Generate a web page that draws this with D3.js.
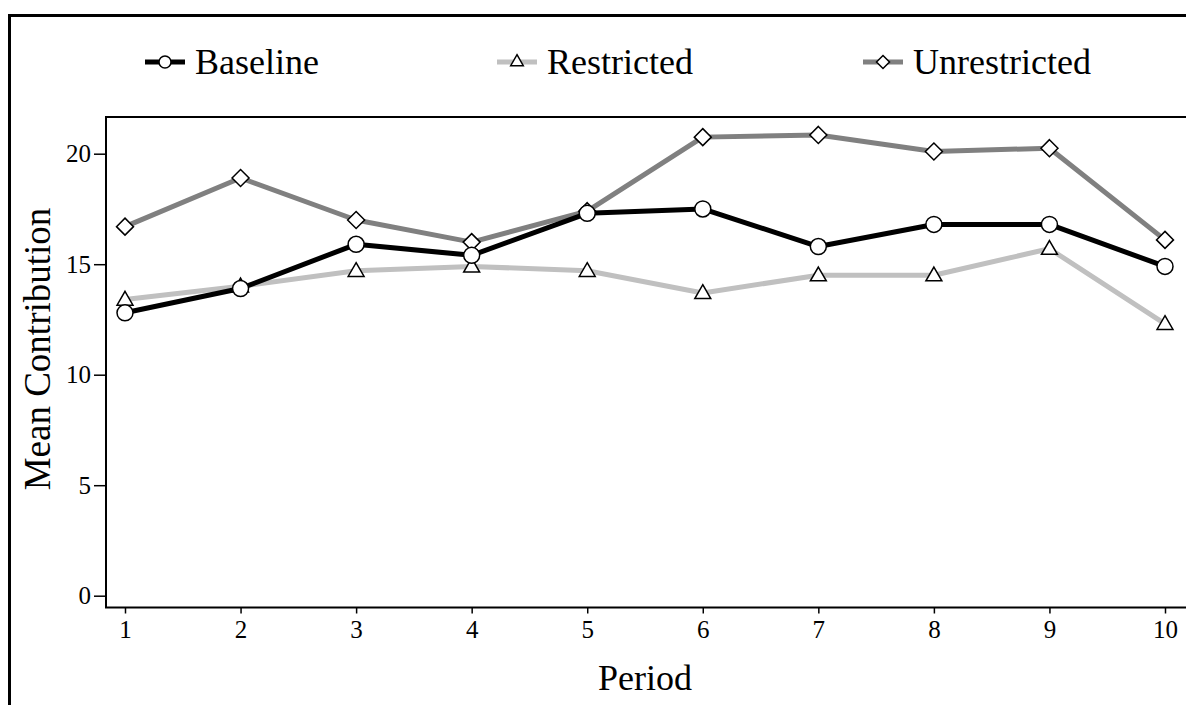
<!DOCTYPE html>
<html>
<head>
<meta charset="utf-8">
<script src="https://cdn.jsdelivr.net/npm/d3@7"></script>
<style>
  body { margin: 0; background: #fff; }
  text { font-family: "Liberation Serif", "Times New Roman", serif; fill: #000; }
</style>
</head>
<body>
<script>
// data
var periods = [1, 2, 3, 4, 5, 6, 7, 8, 9, 10];
var baseline = [12.8, 13.9, 15.9, 15.4, 17.3, 17.5, 15.8, 16.8, 16.8, 14.9];
var restricted = [13.4, 14.0, 14.7, 14.9, 14.7, 13.7, 14.5, 14.5, 15.7, 12.3];
var unrestricted = [16.7, 18.9, 17.0, 16.0, 17.4, 20.75, 20.85, 20.1, 20.25, 16.1];
var yTicks = [0, 5, 10, 15, 20];
var seriesNames = ["Baseline", "Restricted", "Unrestricted"];

var width = 1186, height = 705;
var svg = d3.select("body").append("svg")
  .attr("width", width)
  .attr("height", height);

// outer frame (right and bottom edges fall outside the picture)
svg.append("rect")
  .attr("x", 9.5).attr("y", 15.5)
  .attr("width", 1300).attr("height", 800)
  .attr("fill", "none")
  .attr("stroke", "#000")
  .attr("stroke-width", 3);

var box = { left: 106, top: 117, right: 1192, bottom: 607.5 };

var x = d3.scaleLinear().domain([1, 10]).range([125, 1165]);
var y = d3.scaleLinear().domain([0, 20]).range([595.7, 153.7]);

// plot box
svg.append("rect")
  .attr("x", box.left).attr("y", box.top)
  .attr("width", box.right - box.left)
  .attr("height", box.bottom - box.top)
  .attr("fill", "none")
  .attr("stroke", "#000")
  .attr("stroke-width", 2);

var xAxis = d3.axisBottom(x).tickValues(periods).tickSize(6).tickPadding(7).tickFormat(d3.format("d"));
svg.append("g")
  .attr("transform", "translate(0," + box.bottom + ")")
  .call(xAxis)
  .call(function(g) {
    g.select(".domain").remove();
    g.selectAll("line").attr("stroke", "#000").attr("stroke-width", 1.5);
    g.selectAll("text").attr("font-size", 25).attr("font-family", "Liberation Serif");
  });

var yAxis = d3.axisLeft(y).tickValues(yTicks).tickSize(12).tickPadding(3);
svg.append("g")
  .attr("transform", "translate(" + box.left + ",0)")
  .call(yAxis)
  .call(function(g) {
    g.select(".domain").remove();
    g.selectAll("line").attr("stroke", "#000").attr("stroke-width", 1.5);
    g.selectAll("text").attr("font-size", 25).attr("font-family", "Liberation Serif");
  });

// axis titles
svg.append("text")
  .attr("transform", "translate(50,349) rotate(-90)")
  .attr("text-anchor", "middle")
  .attr("font-size", 37)
  .text("Mean Contribution");

svg.append("text")
  .attr("x", 645).attr("y", 690)
  .attr("text-anchor", "middle")
  .attr("font-size", 36)
  .text("Period");

var series = [
  { name: seriesNames[0], values: baseline, color: "#000000", shape: "circle" },
  { name: seriesNames[1], values: restricted, color: "#c0c0c0", shape: "triangle" },
  { name: seriesNames[2], values: unrestricted, color: "#808080", shape: "diamond" }
];

function markerPath(shape, s) {
  if (shape == "circle") return d3.symbol().type(d3.symbolCircle).size(Math.PI * s * s)();
  if (shape == "triangle") return d3.symbol().type(d3.symbolTriangle).size(s * s * 1.9)();
  return "M0," + (-s) + "L" + s + ",0L0," + s + "L" + (-s) + ",0Z";
}
var markerSize = { circle: 8, triangle: 7.6, diamond: 8.5 };

var line = d3.line()
  .x(function(d, i) { return x(periods[i]); })
  .y(function(d) { return y(d); });

// draw in order so the darker lines sit on top as in the reference
var drawOrder = [1, 2, 0];
drawOrder.forEach(function(k) {
  var s = series[k];
  svg.append("path")
    .datum(s.values)
    .attr("d", line)
    .attr("fill", "none")
    .attr("stroke", s.color)
    .attr("stroke-width", 5)
    .attr("stroke-linejoin", "round");
});
drawOrder.forEach(function(k) {
  var s = series[k];
  svg.selectAll(null)
    .data(s.values)
    .enter()
    .append("path")
    .attr("d", markerPath(s.shape, markerSize[s.shape]))
    .attr("transform", function(d, i) {
      var dy = s.shape == "triangle" ? 1 : 0;
      return "translate(" + x(periods[i]) + "," + (y(d) + dy) + ")";
    })
    .attr("fill", "#fff")
    .attr("stroke", "#000")
    .attr("stroke-width", 1.5);
});

// legend
var legendX = [145, 497, 863];
var legendY = 62;
series.forEach(function(s, i) {
  var g = svg.append("g").attr("transform", "translate(" + legendX[i] + "," + legendY + ")");
  g.append("line")
    .attr("x1", 0).attr("x2", 40)
    .attr("y1", 0).attr("y2", 0)
    .attr("stroke", s.color)
    .attr("stroke-width", 5);
  var ms = s.shape == "circle" ? 6 : (s.shape == "triangle" ? 6 : 6.5);
  g.append("path")
    .attr("d", markerPath(s.shape, ms))
    .attr("transform", "translate(20," + (s.shape == "triangle" ? 0 : 0) + ")")
    .attr("fill", "#fff")
    .attr("stroke", "#000")
    .attr("stroke-width", 1.5);
  g.append("text")
    .attr("x", 50).attr("y", 12)
    .attr("font-size", 36)
    .text(s.name);
});
</script>
</body>
</html>
